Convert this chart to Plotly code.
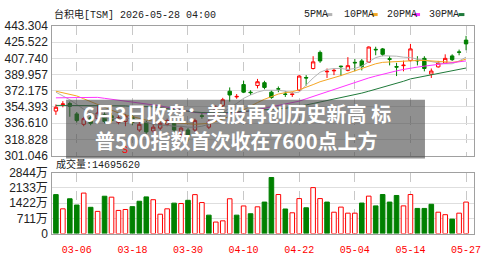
import plotly.graph_objects as go

dates = ["03-03","03-04","03-05","03-06","03-09","03-10","03-11","03-12","03-13","03-16",
         "03-17","03-18","03-19","03-20","03-23","03-24","03-25","03-26","03-27","03-30",
         "03-31","04-01","04-02","04-06","04-07","04-08","04-09","04-10","04-13","04-14",
         "04-15","04-16","04-17","04-20","04-21","04-22","04-23","04-24","04-27","04-28",
         "04-29","04-30","05-01","05-04","05-05","05-06","05-07","05-08","05-11","05-12",
         "05-13","05-14","05-15","05-18","05-19","05-20","05-21","05-22","05-26","05-27"]

open_ = [349.85,357.11,358.15,346.73,335.31,342.58,341.54,345.69,344.65,337.39,
         338.42,343.62,329.08,337.39,328.04,331.15,335.31,336.35,323.89,329.08,
         329.08,344.65,332.19,344.65,356.08,371.65,365.42,378.92,370.61,377.88,
         381.00,370.61,374.25,368.54,368.02,372.69,386.71,396.57,414.23,392.94,
         393.98,399.17,394.50,403.32,404.88,403.53,417.65,418.07,407.27,398.65,
         399.69,405.23,405.61,407.69,390.34,398.34,402.49,410.39,414.75,427.73]
high = [357.11,360.75,360.23,348.81,343.62,344.65,357.11,349.85,347.77,345.69,
        346.73,345.69,338.42,339.46,335.31,338.42,341.54,338.42,333.23,331.15,
        341.54,347.77,340.50,356.08,364.38,375.81,368.54,383.07,372.69,385.15,
        383.07,372.69,376.84,371.65,370.61,389.31,389.31,410.07,416.30,396.57,
        396.57,399.69,409.03,406.96,406.96,420.77,420.46,419.11,410.07,402.80,
        405.23,423.57,410.07,410.07,396.57,404.88,412.15,412.15,417.34,432.40]
low = [345.69,354.00,343.62,337.39,333.23,334.27,339.46,336.35,337.39,335.31,
       333.23,334.27,327.00,324.92,325.96,329.08,333.23,327.00,321.81,316.62,
       327.00,341.54,330.12,342.58,354.00,360.23,363.35,369.58,367.50,374.77,
       373.73,363.35,370.61,365.42,365.42,371.65,377.88,395.54,402.80,386.19,
       389.31,388.27,393.46,393.46,394.50,402.80,411.11,410.07,400.00,388.27,
       393.46,404.19,400.00,393.46,386.19,397.61,401.77,404.88,411.11,416.61]
close = [354.00,357.63,355.04,339.46,341.54,336.35,347.77,338.42,339.46,342.58,
         344.65,337.39,335.31,327.00,332.19,336.35,339.46,329.08,331.15,321.81,
         339.46,344.13,338.42,354.00,362.31,367.50,365.94,370.61,370.09,382.04,
         375.81,364.69,374.04,368.23,368.54,388.27,386.19,403.84,404.88,393.46,
         394.50,398.65,399.69,402.80,398.65,420.15,417.13,412.15,406.75,398.13,
         400.21,418.07,405.09,396.57,393.77,402.49,407.69,406.23,414.44,423.57]

ma5 = [370.61,366.46,362.31,357.11,351.92,347.77,345.69,342.58,341.54,341.54,
       342.06,341.02,339.46,337.39,335.31,334.27,334.27,333.23,333.23,332.19,
       332.19,333.23,335.31,339.46,347.77,353.48,358.15,363.86,367.50,370.61,
       372.69,372.69,372.69,371.65,369.58,370.61,378.92,386.19,392.42,395.54,
       396.57,396.57,395.54,396.57,399.17,403.84,408.52,410.59,410.59,410.07,
       409.03,408.52,406.96,405.40,403.84,402.80,401.77,401.77,404.88,409.03]
ma10 = [371.65,370.09,368.54,366.46,363.35,360.23,357.11,354.00,350.88,347.77,
        345.69,343.62,341.54,339.98,338.94,338.42,337.91,337.39,336.87,335.83,
        335.31,335.83,336.35,338.42,341.02,344.13,347.25,351.40,355.04,359.19,
        362.83,365.42,368.54,370.09,371.13,373.21,375.81,378.92,382.04,384.11,
        386.19,388.79,391.38,393.98,396.57,399.17,401.77,403.32,403.84,404.36,
        404.88,405.40,405.40,405.40,404.88,404.36,403.84,403.32,404.36,406.96]
ma20 = [364.38,364.38,364.38,364.38,364.38,364.90,364.90,363.86,362.83,361.79,
        360.75,359.71,358.67,357.63,357.11,355.56,354.00,352.44,350.88,349.33,
        348.29,347.77,347.25,347.25,347.25,347.77,348.29,348.81,349.85,351.40,
        352.96,354.00,355.56,357.11,358.67,360.75,363.35,365.94,368.54,371.13,
        373.73,376.33,378.92,381.52,384.11,386.19,388.27,390.34,392.42,393.98,
        395.54,397.09,398.13,399.17,400.21,401.25,402.28,403.32,403.84,404.88]
ma30 = [356.08,356.08,356.08,356.08,356.08,356.08,356.08,356.08,356.08,355.56,
        355.56,355.04,355.04,354.52,354.52,353.48,352.44,351.40,350.36,349.33,
        348.81,348.29,347.77,347.77,347.77,348.29,348.81,349.33,349.85,350.36,
        350.88,351.40,351.92,352.96,354.00,355.04,356.59,358.15,359.71,361.27,
        362.83,364.38,365.94,368.02,369.58,371.65,373.73,375.81,377.88,379.96,
        382.56,385.15,386.71,388.27,389.83,391.38,392.94,394.50,396.05,397.09]

volume = [18170000,11550000,16230000,13320000,18880000,12260000,10360000,17420000,16980000,10800000,
          11240000,12570000,15080000,17110000,15790000,9040000,11550000,14200000,14020000,15520000,
          18170000,14470000,8600000,5380000,5950000,16230000,8600000,12880000,9260000,12480000,
          14690000,26150000,18210000,11470000,9700000,16320000,12040000,21430000,16320000,14690000,
          9970000,12350000,9530000,9530000,14240000,17460000,12920000,18210000,14690000,17770000,
          12920000,18210000,11730000,11730000,13670000,9970000,8820000,6750000,9530000,14695620]
vol_up = [0,1,0,0,1,0,1,0,1,1,1,0,0,0,1,1,1,0,1,0,1,1,0,1,1,1,0,1,
          0,1,0,0,1,0,1,1,0,1,1,0,1,1,1,1,0,1,0,0,0,0,1,1,0,0,0,1,1,0,1,1]

price_ticks = [301.046, 318.828, 336.610, 354.393, 372.175, 389.957, 407.740, 425.522, 443.304]
price_ticktext = ["301.046", "318.828", "336.610", "354.393", "372.175", "389.957", "407.740", "425.522", "443.304"]
vol_ticks = [0, 7110000, 14220000, 21330000, 28440000]
vol_ticktext = ["0", "711万", "1422万", "2133万", "2844万"]
date_ticks = ["03-06", "03-18", "03-30", "04-10", "04-22", "05-04", "05-14", "05-27"]

title_text = "台积电[TSM] 2026-05-28 04:00"
vol_label = "成交量:14695620"
banner_lines = ["6月3日收盘：美股再创历史新高 标", "普500指数首次收在7600点上方"]
ma_names = ["5PMA", "10PMA", "20PMA", "30PMA"]
ma_colors = ["#b4b4b4", "#f5a623", "#ff33ff", "#1f7a3a"]

RED = "#ff0000"
GREEN = "#008000"
W, H = 500, 260

def px(x):
    return x / W

def py(y):
    return 1 - y / H

fig = go.Figure()

for name, series, col in zip(ma_names, [ma5, ma10, ma20, ma30], ma_colors):
    fig.add_trace(go.Scatter(x=dates, y=series, mode="lines", name=name,
                             line=dict(color=col, width=1), showlegend=False,
                             hoverinfo="skip", xaxis="x", yaxis="y"))

fig.add_trace(go.Candlestick(
    x=dates, open=open_, high=high, low=low, close=close,
    increasing=dict(line=dict(color=RED, width=1), fillcolor="#ffffff"),
    decreasing=dict(line=dict(color=GREEN, width=1), fillcolor=GREEN),
    showlegend=False, xaxis="x", yaxis="y"))

fig.add_trace(go.Bar(
    x=dates, y=volume, width=0.66,
    marker=dict(color=["#ffffff" if u else GREEN for u in vol_up],
                line=dict(color=[RED if u else GREEN for u in vol_up], width=1)),
    showlegend=False, xaxis="x2", yaxis="y2"))

xr = [-0.525, 60.18]
common_x = dict(type="category", range=xr, tickvals=date_ticks, showgrid=True,
                gridcolor="#c8c8c8", griddash="dash", gridwidth=1,
                showline=True, linecolor="#a0a0a0", linewidth=1, mirror=True,
                zeroline=False, ticks="", fixedrange=True)

fig.update_layout(
    width=W, height=H, margin=dict(l=0, r=0, t=0, b=0),
    paper_bgcolor="#ffffff", plot_bgcolor="#ffffff",
    showlegend=False, bargap=0.3,
    xaxis=dict(domain=[px(53), px(481)], anchor="y", showticklabels=False,
               rangeslider=dict(visible=False), **common_x),
    yaxis=dict(domain=[py(157), py(20)], range=[price_ticks[0], price_ticks[-1]],
               tickvals=price_ticks, ticktext=price_ticktext, showgrid=True,
               gridcolor="#dedede", showline=True, linecolor="#a0a0a0", mirror=True,
               zeroline=False, ticks="", ticklabelstandoff=1,
               tickfont=dict(family="Liberation Sans, Arial", size=12, color="#222222"),
               fixedrange=True),
    xaxis2=dict(domain=[px(53), px(481)], anchor="y2", showticklabels=True,
                ticklabelstandoff=6,
                tickfont=dict(family="Liberation Mono, monospace", size=10, color=RED),
                **common_x),
    yaxis2=dict(domain=[py(239.5), py(175)], range=[0, vol_ticks[-1]],
                tickvals=vol_ticks, ticktext=vol_ticktext, showgrid=True,
                gridcolor="#dedede", showline=True, linecolor="#a0a0a0", mirror=True,
                zeroline=False, ticks="", ticklabelstandoff=1,
                tickfont=dict(family="Liberation Sans, Noto Sans CJK SC", size=12, color="#222222"),
                fixedrange=True),
)

small_font = dict(family="Liberation Mono, Noto Sans CJK SC", size=10, color="#222222")
annotations = [
    dict(text=title_text, x=px(53), y=py(8), xref="paper", yref="paper",
         xanchor="left", yanchor="middle", showarrow=False, font=small_font),
    dict(text=vol_label, x=px(55), y=py(166), xref="paper", yref="paper",
         xanchor="left", yanchor="middle", showarrow=False, font=small_font),
    dict(text="S", x=dates[10], y=307.0, xref="x", yref="y", showarrow=False,
         font=dict(family="Liberation Mono", size=10, color=RED)),
]
shapes = []
leg_x = [306.5, 346.5, 390, 433]
dash_x = [331, 377, 420, 465]
for name, col, lx, dx in zip(ma_names, ma_colors, leg_x, dash_x):
    annotations.append(dict(text=name, x=px(lx), y=py(7.5), xref="paper", yref="paper",
                            xanchor="left", yanchor="middle", showarrow=False, font=small_font))
    shapes.append(dict(type="line", xref="paper", yref="paper", x0=px(dx), x1=px(dx + 6),
                       y0=py(8), y1=py(8), line=dict(color=col, width=3)))

# overlay banner
shapes.append(dict(type="rect", xref="paper", yref="paper", x0=px(67), x1=px(431),
                   y0=py(160), y1=py(98), fillcolor="rgba(70,70,70,0.6)",
                   line=dict(width=0), layer="above"))
for line_text, ly in zip(banner_lines, [113, 141]):
    annotations.append(dict(text="<b>" + line_text + "</b>", x=px(240), y=py(ly),
                            xref="paper", yref="paper",
                            xanchor="center", yanchor="middle", showarrow=False,
                            font=dict(family="Noto Sans CJK SC", size=20, color="#ffffff")))

fig.update_layout(annotations=annotations, shapes=shapes)
fig.write_html("out.html", config={"displayModeBar": False})
